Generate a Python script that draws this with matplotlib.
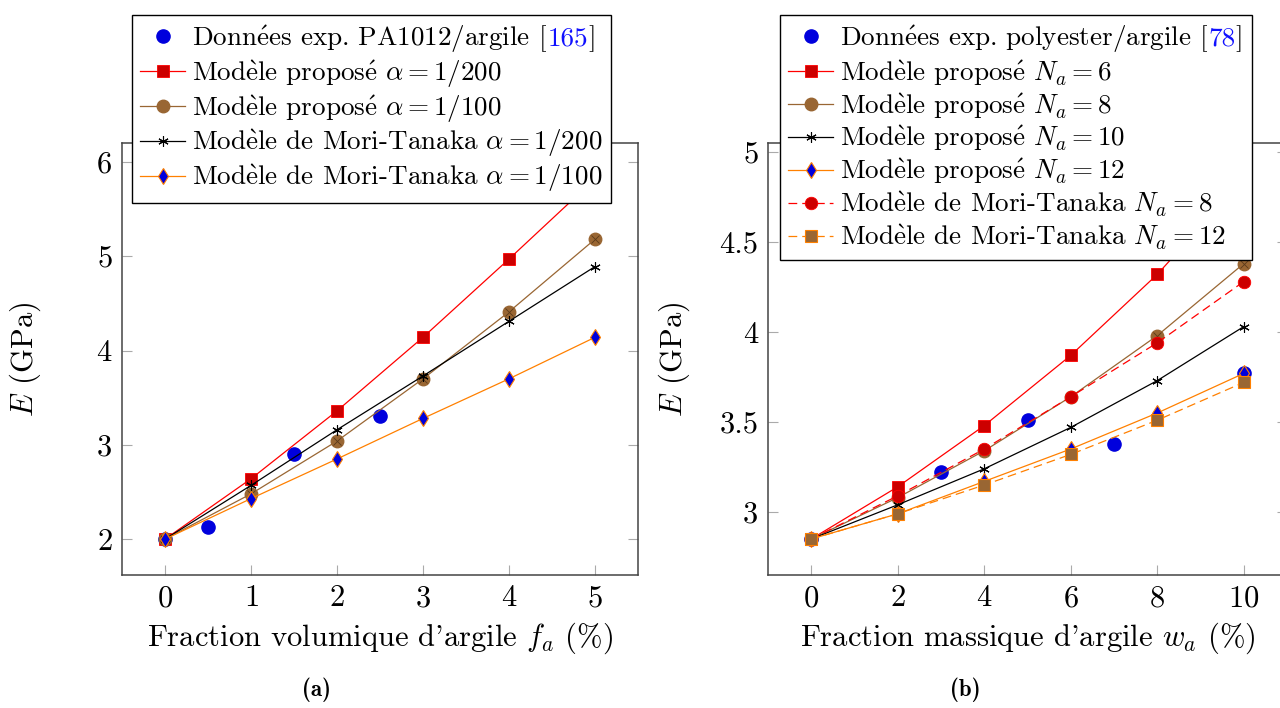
import os
import matplotlib
matplotlib.use("Agg")
import matplotlib.pyplot as plt
from matplotlib.font_manager import FontProperties
from matplotlib.offsetbox import HPacker, TextArea

plt.rcParams['font.family'] = ['cmr10', 'DejaVu Serif']
plt.rcParams['mathtext.fontset'] = 'cm'
plt.rcParams['axes.unicode_minus'] = False
plt.rcParams['axes.formatter.use_mathtext'] = True

# ---- data, panel (a) ----
fa = [0, 1, 2, 3, 4, 5]
fa_exp = [0, 0.5, 1.5, 2.5]
E_exp_a = [2.0, 2.13, 2.90, 3.31]
E_prop_200 = [2.0, 2.64, 3.36, 4.14, 4.97, 5.82]
E_prop_100 = [2.0, 2.48, 3.04, 3.70, 4.41, 5.18]
E_mt_200 = [2.0, 2.57, 3.16, 3.73, 4.31, 4.89]
E_mt_100 = [2.0, 2.43, 2.85, 3.28, 3.70, 4.14]

# ---- data, panel (b) ----
wa = [0, 2, 4, 6, 8, 10]
wa_exp = [0, 3, 5, 7, 10]
E_exp_b = [2.85, 3.22, 3.51, 3.38, 3.77]
E_na6 = [2.85, 3.14, 3.48, 3.87, 4.32, 4.85]
E_na8 = [2.85, 3.08, 3.34, 3.64, 3.98, 4.38]
E_na10 = [2.85, 3.04, 3.24, 3.47, 3.73, 4.03]
E_na12 = [2.85, 2.99, 3.17, 3.35, 3.55, 3.77]
E_mt_na8 = [2.85, 3.09, 3.35, 3.64, 3.94, 4.28]
E_mt_na12 = [2.85, 2.99, 3.15, 3.32, 3.51, 3.72]

xticks_a = [0, 1, 2, 3, 4, 5]
yticks_a = [2, 3, 4, 5, 6]
xticks_b = [0, 2, 4, 6, 8, 10]
yticks_b = [3, 3.5, 4, 4.5, 5]

# accented letters through mathtext (cmr10 has no é / è glyphs)
E_AIGU = r'$\mathrm{\acute{e}}$'
E_GRAVE = r'$\mathrm{\grave{e}}$'
MODELE = 'Mod' + E_GRAVE + 'le'
PROPOSE = 'propos' + E_AIGU
DONNEES = 'Donn' + E_AIGU + 'es'

RED = '#ff0000'
RED_FILL = '#cc0000'
BROWN = '#996633'
ORANGE = '#ff8000'
BLUE = '#0000dd'
FS = 22
LFS = 19.5

W, H = 1280, 708
fig = plt.figure(figsize=(12.8, 7.08), dpi=100)
ax1 = fig.add_axes([122 / W, 1 - 575 / H, (638 - 122) / W, (575 - 143) / H])
ax2 = fig.add_axes([768 / W, 1 - 575 / H, (1287 - 768) / W, (575 - 143) / H])


def otimes(ax, x, y, ms, **kw):
    # pgfplots "otimes*" marker: filled circle with a cross
    line, = ax.plot(x, y, color=BROWN, lw=0.9, marker='o', ms=ms,
                    mfc=BROWN, mec=BROWN, **kw)
    ax.plot(x, y, ls='none', marker='x', ms=ms * 0.6, mec='#5a3a1a', mew=0.6)
    return line


def plot_series(ax, x_exp, y_exp, x, curves):
    hs = [ax.plot(x_exp, y_exp, ls='none', marker='o', ms=9.5,
                  mfc=BLUE, mec=BLUE)[0]]
    for kind, y in curves:
        if kind == 'red':
            hs.append(ax.plot(x, y, color=RED, lw=0.9, marker='s', ms=8.7,
                              mfc=RED_FILL, mec=RED, mew=0.6)[0])
        elif kind == 'brown':
            hs.append(otimes(ax, x, y, 9))
        elif kind == 'black':
            hs.append(ax.plot(x, y, color='black', lw=0.9, marker=(6, 2, 0),
                              ms=7.5, mew=0.8)[0])
        elif kind == 'orange':
            hs.append(ax.plot(x, y, color=ORANGE, lw=0.9, marker='d', ms=8.5,
                              mfc=BLUE, mec=ORANGE, mew=0.8)[0])
        elif kind == 'red--':
            hs.append(ax.plot(x, y, color=RED, lw=0.9, ls=(0, (7, 4)),
                              marker='o', ms=9, mfc=RED_FILL, mec=RED,
                              mew=0.6)[0])
        elif kind == 'orange--':
            hs.append(ax.plot(x, y, color=ORANGE, lw=0.9, ls=(0, (7, 4)),
                              marker='s', ms=8.7, mfc=BROWN, mec=ORANGE,
                              mew=0.8)[0])
    return hs


# ---- panel (a) ----
h_a = plot_series(ax1, fa_exp, E_exp_a, fa,
                  [('red', E_prop_200), ('brown', E_prop_100),
                   ('black', E_mt_200), ('orange', E_mt_100)])
lab_a = [DONNEES + ' exp. PA1012/argile [165]',
         MODELE + ' ' + PROPOSE + r' $\alpha = 1/200$',
         MODELE + ' ' + PROPOSE + r' $\alpha = 1/100$',
         MODELE + r' de Mori-Tanaka $\alpha = 1/200$',
         MODELE + r' de Mori-Tanaka $\alpha = 1/100$']

ax1.set_xlim(-0.5, 5.5)
ax1.set_ylim(1.62, 6.2)
ax1.set_xticks(xticks_a)
ax1.set_yticks(yticks_a)

# ---- panel (b) ----
h_b = plot_series(ax2, wa_exp, E_exp_b, wa,
                  [('red', E_na6), ('brown', E_na8), ('black', E_na10),
                   ('orange', E_na12), ('red--', E_mt_na8),
                   ('orange--', E_mt_na12)])
lab_b = [DONNEES + ' exp. polyester/argile [78]',
         MODELE + ' ' + PROPOSE + r' $N_a = 6$',
         MODELE + ' ' + PROPOSE + r' $N_a = 8$',
         MODELE + ' ' + PROPOSE + r' $N_a = 10$',
         MODELE + ' ' + PROPOSE + r' $N_a = 12$',
         MODELE + r' de Mori-Tanaka $N_a = 8$',
         MODELE + r' de Mori-Tanaka $N_a = 12$']

ax2.set_xlim(-1, 11)
ax2.set_ylim(2.65, 5.05)
ax2.set_xticks(xticks_b)
ax2.set_yticks(yticks_b)
ax2.set_yticklabels(['3', '3.5', '4', '4.5', '5'])

for ax in (ax1, ax2):
    for s in ax.spines.values():
        s.set_color('#444444')
        s.set_linewidth(1.1)
    ax.tick_params(direction='in', length=7, width=0.8, color='#aaaaaa',
                   top=True, right=True, labelsize=FS, pad=7)
    ax.set_ylabel(r'$E$ (GPa)', fontsize=FS)

ax1.set_xlabel(r"Fraction volumique d'argile $f_a$ (%)", fontsize=FS)
ax2.set_xlabel(r"Fraction massique d'argile $w_a$ (%)", fontsize=FS)
ax1.yaxis.set_label_coords(-0.153, 0.5)
ax2.yaxis.set_label_coords(-0.146, 0.5)
ax1.xaxis.set_label_coords(0.5, -0.105)
ax2.xaxis.set_label_coords(0.5, -0.105)

# sub-captions in Computer Modern bold
bold_path = os.path.join(matplotlib.get_data_path(), 'fonts', 'ttf', 'cmb10.ttf')
if os.path.exists(bold_path):
    cap_font = FontProperties(fname=bold_path, size=16.5)
else:
    cap_font = FontProperties(family='DejaVu Serif', weight='bold', size=15)
fig.text(316 / W, 1 - 690 / H, '(a)', fontproperties=cap_font,
         ha='center', va='center')
fig.text(965 / W, 1 - 690 / H, '(b)', fontproperties=cap_font,
         ha='center', va='center')


def make_legend(handles, labels, x, y, ref):
    leg = fig.legend(handles, labels, loc='upper left',
                     bbox_to_anchor=(x / W, 1 - y / H), borderaxespad=0,
                     fontsize=LFS, fancybox=False, framealpha=1,
                     edgecolor='black', handlelength=1.67, handletextpad=0.26,
                     labelspacing=0.13, borderpad=0.3)
    leg.get_frame().set_linewidth(1.0)
    # colour the citation number in blue
    prefix = labels[0][:-(len(ref) + 1)]
    for col in leg._legend_handle_box.get_children():
        for row in col.get_children():
            kids = row.get_children()
            if isinstance(kids[1], TextArea) and kids[1]._text.get_text() == labels[0]:
                new = HPacker(children=[
                    TextArea(prefix, textprops=dict(color='black', fontsize=LFS)),
                    TextArea(ref, textprops=dict(color='#1010ff', fontsize=LFS)),
                    TextArea(']', textprops=dict(color='black', fontsize=LFS))],
                    pad=0, sep=0, align='baseline')
                row._children[1] = new
                new.set_figure(fig)
    return leg


make_legend(h_a, lab_a, 132, 15, '165')
make_legend(h_b, lab_b, 780, 15, '78')

fig.savefig('out.png', dpi=100)
